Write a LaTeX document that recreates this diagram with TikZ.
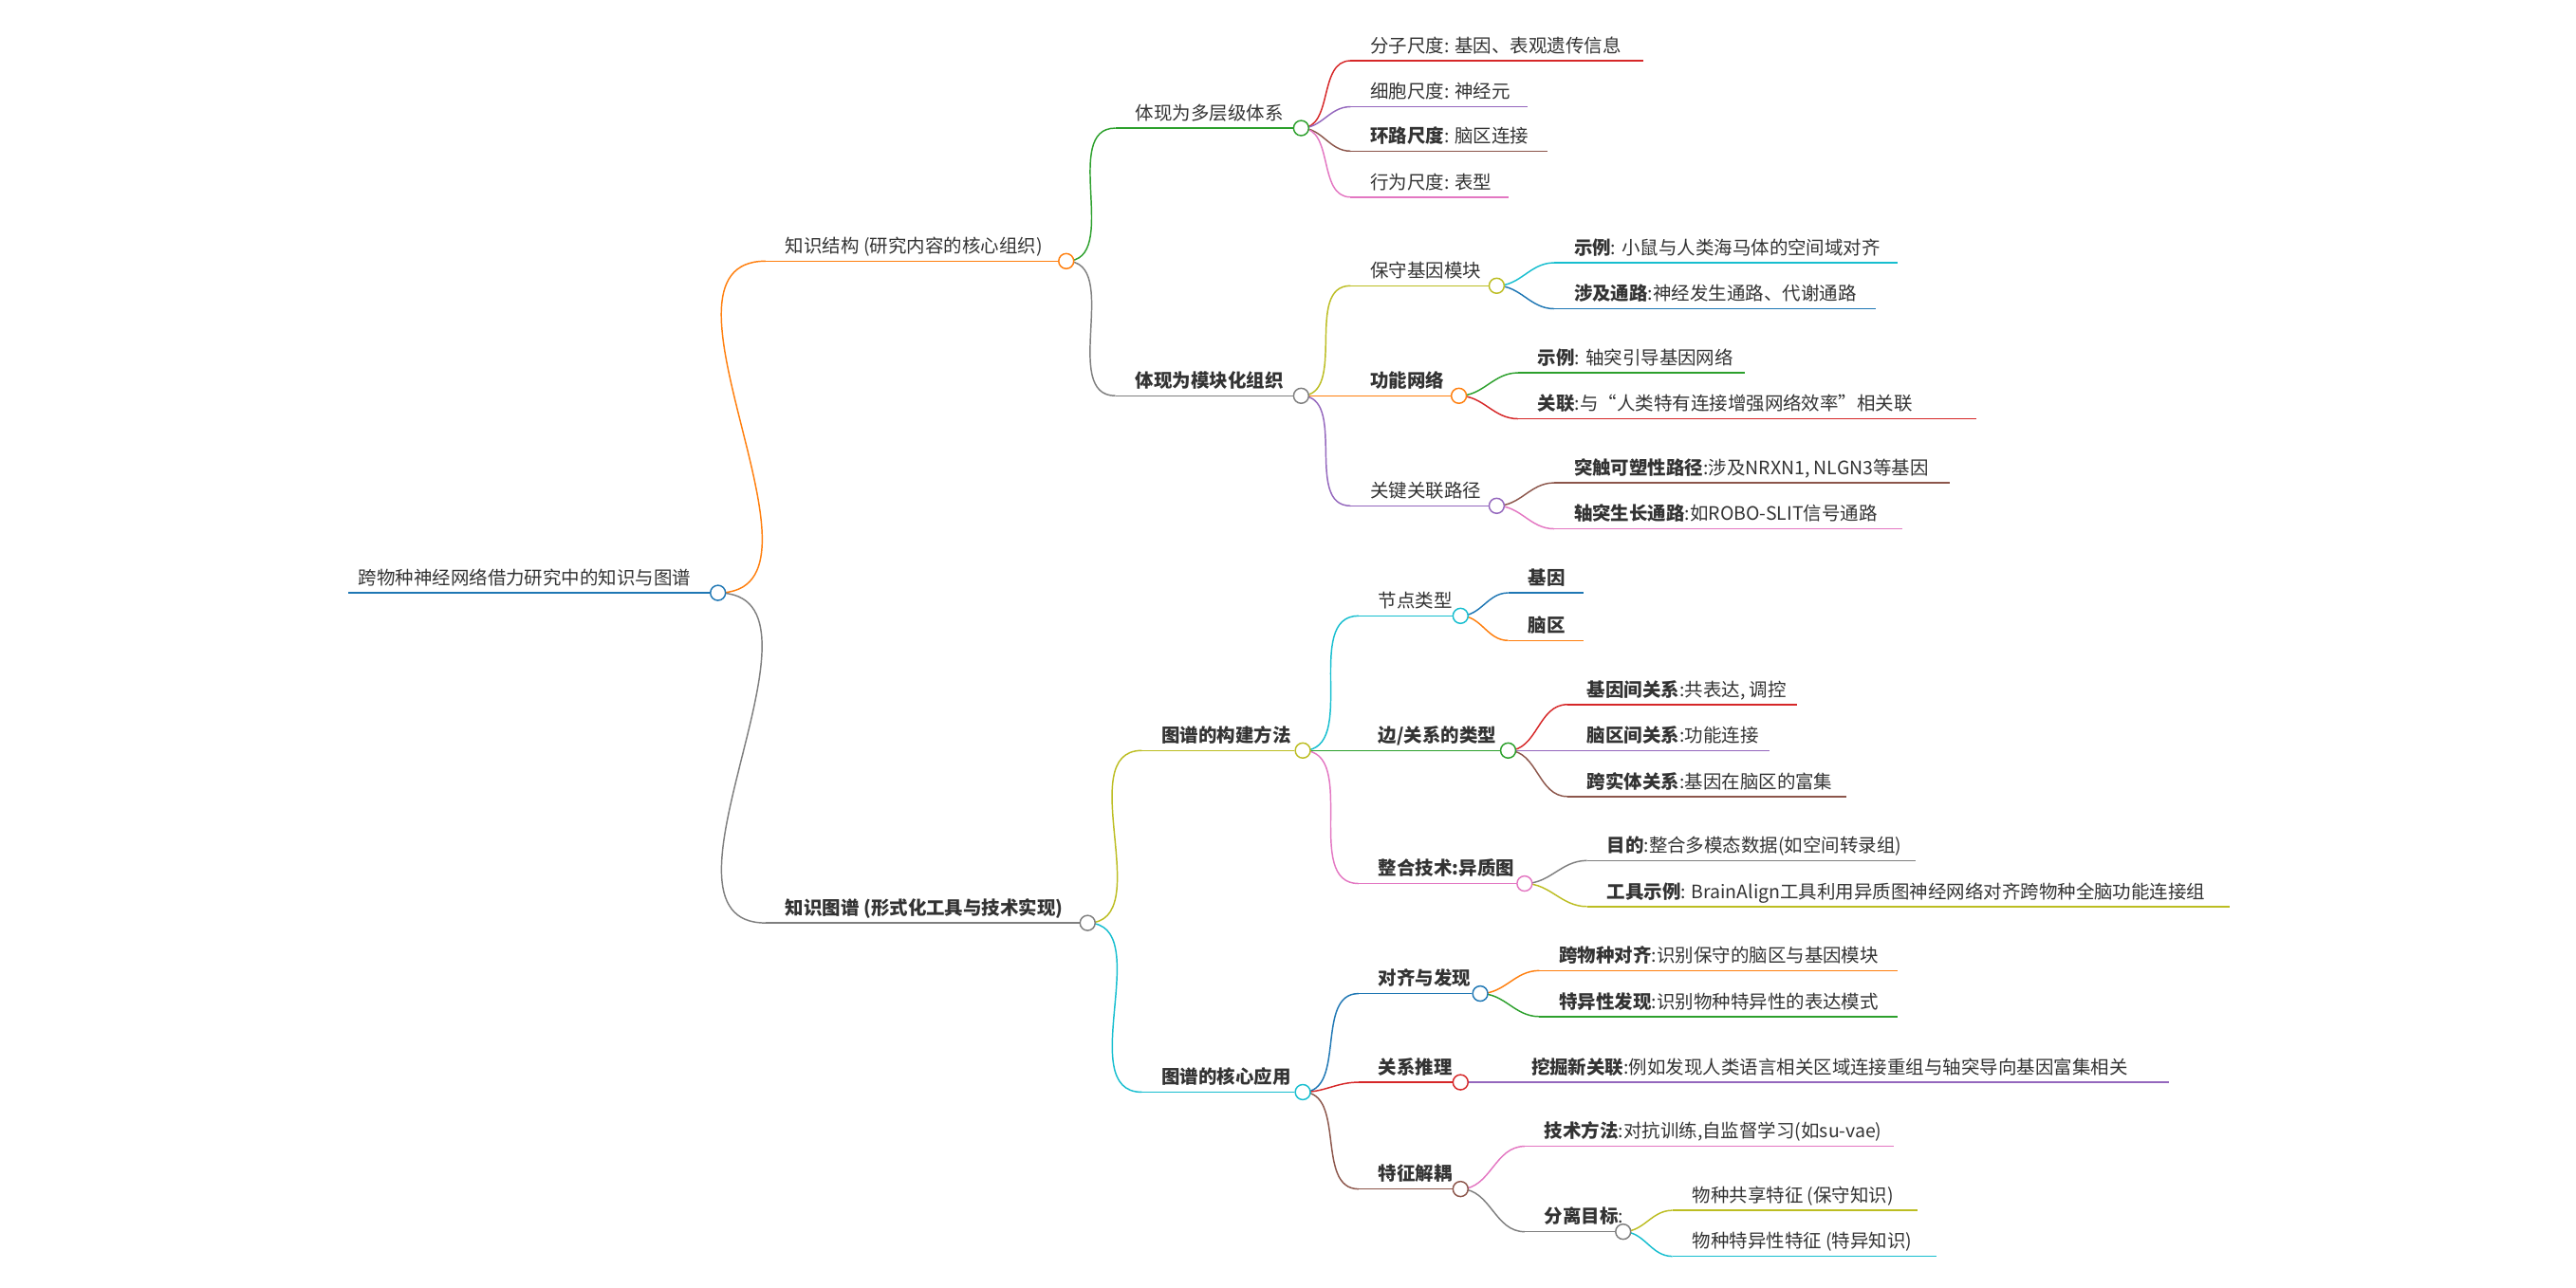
\documentclass[tikz,border=0pt]{standalone}
\usepackage{fontspec}
\setmainfont{Noto Sans CJK SC}
\usetikzlibrary{calc, backgrounds}

\definecolor{cblue}{HTML}{1F77B4}
\definecolor{corange}{HTML}{FF7F0E}
\definecolor{cgreen}{HTML}{2CA02C}
\definecolor{cred}{HTML}{D62728}
\definecolor{cpurple}{HTML}{9467BD}
\definecolor{cbrown}{HTML}{8C564B}
\definecolor{cpink}{HTML}{E377C2}
\definecolor{cgray}{HTML}{7F7F7F}
\definecolor{colive}{HTML}{BCBD22}
\definecolor{ccyan}{HTML}{17BECF}
\definecolor{ctext}{HTML}{333333}

% item: underline plus its text
\newcommand{\mmitem}[6]{%
  \coordinate (#1-s) at (#3,#5);
  \coordinate (#1-e) at (#4,#5);
  \draw[branch, #2] (#1-s) -- (#1-e);
  \node[item] (#1) at ($(#1-s)+(12,-5)$) {#6};
}
\newcommand{\mmknot}[2]{\node[knot, draw=#2] (#1-k) at ($(#1-e)+(5,0)$) {};}
\newcommand{\mmlink}[3]{\draw[branch, #3] (#1-k.center) to[out=0, in=180] (#2-s);}

\begin{document}
\begin{tikzpicture}[
    x=0.5mm, y=-0.5mm,
    branch/.style={line width=1.2pt},
    item/.style={anchor=base west, inner sep=0pt, text=ctext, font=\fontsize{16}{19}\selectfont},
    knot/.style={circle, fill=white, line width=1.2pt, minimum size=4.6mm, inner sep=0pt}
]
\useasboundingbox (0,0) rectangle (1568,784);

% Root
\coordinate (root-s) at (212,361);
\coordinate (root-e) at (432,361);
\draw[line width=2pt, cblue] (root-s) -- (root-e);
\node[item] (root) at ($(root-s)+(6,-5)$) {跨物种神经网络借力研究中的知识与图谱};

% Level 1
\mmitem{A}{corange}{466}{644}{159}{知识结构 (研究内容的核心组织)}
\mmitem{B}{cgray}{466}{657}{562}{\textbf{知识图谱 (形式化工具与技术实现)}}

% Knowledge structure
\mmitem{A1}{cgreen}{679}{787}{78}{体现为多层级体系}
\mmitem{A2}{cgray}{679}{787}{241}{\textbf{体现为模块化组织}}
\mmitem{A1a}{cred}{822}{1000}{37}{分子尺度: 基因、表观遗传信息}
\mmitem{A1b}{cpurple}{822}{930}{65}{细胞尺度: 神经元}
\mmitem{A1c}{cbrown}{822}{942}{92}{\textbf{环路尺度}: 脑区连接}
\mmitem{A1d}{cpink}{822}{918}{120}{行为尺度: 表型}
\mmitem{A2a}{colive}{822}{906}{174}{保守基因模块}
\mmitem{A2b}{corange}{822}{883}{241}{\textbf{功能网络}}
\mmitem{A2c}{cpurple}{822}{906}{308}{关键关联路径}
\mmitem{A2a1}{ccyan}{946}{1155}{160}{\textbf{示例}: 小鼠与人类海马体的空间域对齐}
\mmitem{A2a2}{cblue}{946}{1142}{188}{\textbf{涉及通路}:神经发生通路、代谢通路}
\mmitem{A2b1}{cgreen}{924}{1062}{227}{\textbf{示例}: 轴突引导基因网络}
\mmitem{A2b2}{cred}{924}{1203}{255}{\textbf{关联}:与“人类特有连接增强网络效率”相关联}
\mmitem{A2c1}{cbrown}{946}{1187}{294}{\textbf{突触可塑性路径}:涉及NRXN1, NLGN3等基因}
\mmitem{A2c2}{cpink}{946}{1158}{322}{\textbf{轴突生长通路}:如ROBO-SLIT信号通路}

% Knowledge graph
\mmitem{B1}{colive}{695}{788}{457}{\textbf{图谱的构建方法}}
\mmitem{B2}{ccyan}{695}{788}{665}{\textbf{图谱的核心应用}}
\mmitem{B1a}{ccyan}{827}{884}{375}{节点类型}
\mmitem{B1b}{cgreen}{827}{913}{457}{\textbf{边/关系的类型}}
\mmitem{B1c}{cpink}{827}{923}{538}{\textbf{整合技术:异质图}}
\mmitem{B1a1}{cblue}{918}{964}{361}{\textbf{基因}}
\mmitem{B1a2}{corange}{918}{964}{390}{\textbf{脑区}}
\mmitem{B1b1}{cred}{954}{1094}{429}{\textbf{基因间关系}:共表达, 调控}
\mmitem{B1b2}{cpurple}{954}{1077}{457}{\textbf{脑区间关系}:功能连接}
\mmitem{B1b3}{cbrown}{954}{1124}{485}{\textbf{跨实体关系}:基因在脑区的富集}
\mmitem{B1c1}{cgray}{966}{1166}{524}{\textbf{目的}:整合多模态数据(如空间转录组)}
\mmitem{B1c2}{colive}{966}{1357}{552}{\textbf{工具示例}: BrainAlign工具利用异质图神经网络对齐跨物种全脑功能连接组}
\mmitem{B2a}{cblue}{827}{896}{605}{\textbf{对齐与发现}}
\mmitem{B2b}{cred}{827}{884}{659}{\textbf{关系推理}}
\mmitem{B2c}{cbrown}{827}{884}{724}{\textbf{特征解耦}}
\mmitem{B2a1}{corange}{937}{1155}{591}{\textbf{跨物种对齐}:识别保守的脑区与基因模块}
\mmitem{B2a2}{cgreen}{937}{1155}{619}{\textbf{特异性发现}:识别物种特异性的表达模式}
\mmitem{B2b1}{cpurple}{920}{1320}{659}{\textbf{挖掘新关联}:例如发现人类语言相关区域连接重组与轴突导向基因富集相关}
\mmitem{B2c1}{cpink}{928}{1153}{698}{\textbf{技术方法}:对抗训练,自监督学习(如su-vae)}
\mmitem{B2c2}{cgray}{928}{983}{750}{\textbf{分离目标}:}
\mmitem{B2c2a}{colive}{1018}{1167}{737}{物种共享特征 (保守知识)}
\mmitem{B2c2b}{ccyan}{1018}{1179}{765}{物种特异性特征 (特异知识)}

% Knots
\node[knot, draw=cblue] (root-k) at ($(root-e)+(5,0)$) {};
\mmknot{A}{corange}
\mmknot{B}{cgray}
\mmknot{A1}{cgreen}
\mmknot{A2}{cgray}
\mmknot{A2a}{colive}
\mmknot{A2b}{corange}
\mmknot{A2c}{cpurple}
\mmknot{B1}{colive}
\mmknot{B2}{ccyan}
\mmknot{B1a}{ccyan}
\mmknot{B1b}{cgreen}
\mmknot{B1c}{cpink}
\mmknot{B2a}{cblue}
\mmknot{B2b}{cred}
\mmknot{B2c}{cbrown}
\mmknot{B2c2}{cgray}

% Connectors
\begin{scope}[on background layer]
\mmlink{root}{A}{corange}
\mmlink{root}{B}{cgray}
\mmlink{A}{A1}{cgreen}
\mmlink{A}{A2}{cgray}
\foreach \c/\col in {A1a/cred, A1b/cpurple, A1c/cbrown, A1d/cpink}
  {\mmlink{A1}{\c}{\col}}
\mmlink{A2}{A2a}{colive}
\mmlink{A2}{A2b}{corange}
\mmlink{A2}{A2c}{cpurple}
\mmlink{A2a}{A2a1}{ccyan}
\mmlink{A2a}{A2a2}{cblue}
\mmlink{A2b}{A2b1}{cgreen}
\mmlink{A2b}{A2b2}{cred}
\mmlink{A2c}{A2c1}{cbrown}
\mmlink{A2c}{A2c2}{cpink}
\mmlink{B}{B1}{colive}
\mmlink{B}{B2}{ccyan}
\mmlink{B1}{B1a}{ccyan}
\mmlink{B1}{B1b}{cgreen}
\mmlink{B1}{B1c}{cpink}
\mmlink{B1a}{B1a1}{cblue}
\mmlink{B1a}{B1a2}{corange}
\mmlink{B1b}{B1b1}{cred}
\mmlink{B1b}{B1b2}{cpurple}
\mmlink{B1b}{B1b3}{cbrown}
\mmlink{B1c}{B1c1}{cgray}
\mmlink{B1c}{B1c2}{colive}
\mmlink{B2}{B2a}{cblue}
\mmlink{B2}{B2b}{cred}
\mmlink{B2}{B2c}{cbrown}
\mmlink{B2a}{B2a1}{corange}
\mmlink{B2a}{B2a2}{cgreen}
\mmlink{B2b}{B2b1}{cpurple}
\mmlink{B2c}{B2c1}{cpink}
\mmlink{B2c}{B2c2}{cgray}
\mmlink{B2c2}{B2c2a}{colive}
\mmlink{B2c2}{B2c2b}{ccyan}
\end{scope}
\end{tikzpicture}
\end{document}
